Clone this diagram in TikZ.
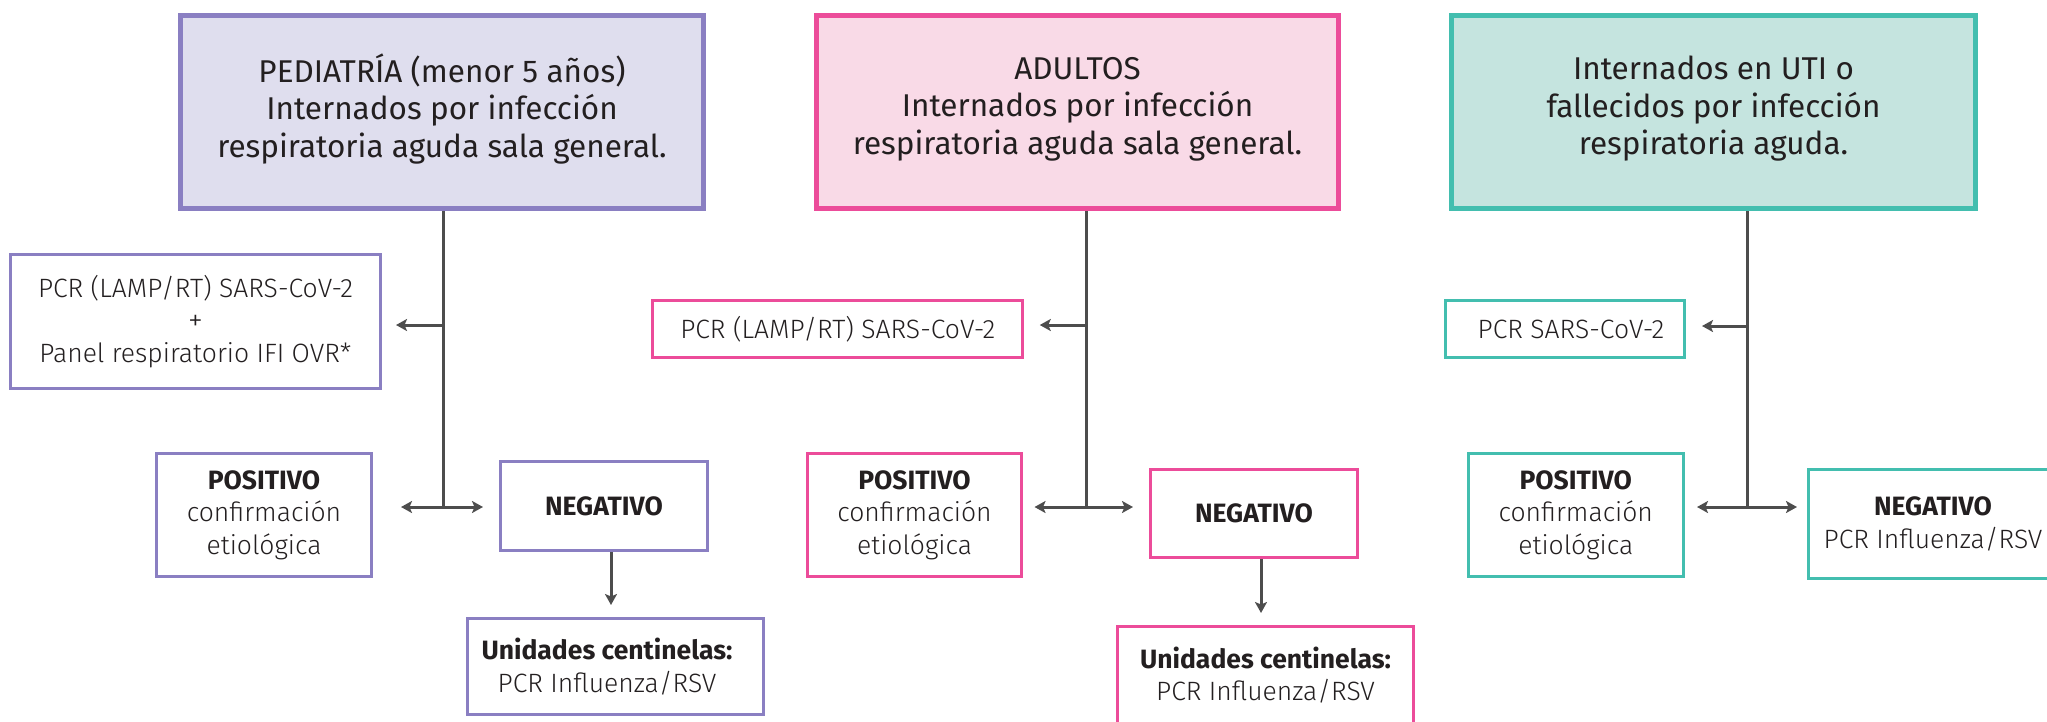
\documentclass[tikz,border=0pt]{standalone}
\usepackage{fontspec}
\setmainfont{Fira Sans}
\newfontfamily\lightfont{Fira Sans Light}
\usetikzlibrary{arrows.meta,calc}
\definecolor{txt}{HTML}{231F20}
\definecolor{lnk}{HTML}{4D4D4D}
\definecolor{purB}{HTML}{8A7FC2}
\definecolor{purF}{HTML}{DFDEEE}
\definecolor{pnkB}{HTML}{EC4C9A}
\definecolor{pnkF}{HTML}{F9DAE7}
\definecolor{tealB}{HTML}{43BEAF}
\definecolor{tealF}{HTML}{C5E4DF}
\newcommand\mybold[1]{{\normalfont\bfseries #1}}
\newcommand\lowfix{\rule[-13pt]{0pt}{0pt}}
\newcommand\plusmark{\raisebox{-1pt}{\fontsize{30}{30}\selectfont +}}
\begin{document}
\begin{tikzpicture}[x=1pt,y=-1pt,
  titlebox/.style={draw, line width=5pt, inner sep=0pt, align=center, text=txt,
    font=\fontsize{31.5}{37.5}\selectfont, minimum height=193pt},
  smallbox/.style={draw, line width=3pt, fill=white, inner sep=0pt, align=center, text=txt,
    font=\lightfont\fontsize{26.5}{32.5}\selectfont},
  conn/.style={draw=lnk, line width=3pt},
  arr/.style={conn, -{Stealth[length=11pt,width=12pt,inset=2.5pt]}},
  dbl/.style={conn, {Stealth[length=11pt,width=12pt,inset=2.5pt]}-{Stealth[length=11pt,width=12pt,inset=2.5pt]}}
]
\useasboundingbox (0,0) rectangle (2047,721);

% ---------- Pediatria ----------
\node[titlebox, draw=purB, fill=purF, minimum width=523pt] (pedtitle) at (442,112)
  {PEDIATRÍA (menor 5 años)\\Internados por infección\\respiratoria aguda sala general.\lowfix};
\node[smallbox, draw=purB, minimum width=370pt, minimum height=134pt] (pedpcr) at (195.5,321.5)
  {PCR (LAMP/RT) SARS-CoV-2\\\plusmark\\Panel respiratorio IFI OVR*};
\node[smallbox, draw=purB, minimum width=215pt, minimum height=123pt] (pedpos) at (264,515)
  {\mybold{POSITIVO}\\confirmación\\etiológica};
\node[smallbox, draw=purB, minimum width=207pt, minimum height=89pt] (pedneg) at (604,506)
  {\mybold{NEGATIVO}};
\node[smallbox, draw=purB, minimum width=296pt, minimum height=96pt] (peduni) at (615.5,666.5)
  {\mybold{Unidades centinelas:}\hspace*{17pt}\\PCR Influenza/RSV\hspace*{17pt}};

\coordinate (pedpcrj) at (443.5,325);
\coordinate (pedj) at (443.5,507);
\coordinate (pedd) at ([xshift=7pt]pedneg.south);
\draw[conn] (pedtitle.south -| pedj) -- (pedj);
\draw[arr, shorten >=14pt] (pedpcrj) -- (pedpcrj -| pedpcr.east);
\draw[dbl, shorten <=28pt, shorten >=16pt] (pedj -| pedpos.east) -- (pedj -| pedneg.west);
\draw[arr, shorten >=12pt] (pedd) -- (pedd |- peduni.north);

% ---------- Adultos ----------
\node[titlebox, draw=pnkB, fill=pnkF, minimum width=522pt] (adtitle) at (1077.5,112)
  {ADULTOS\\Internados por infección\\respiratoria aguda sala general.\lowfix};
\node[smallbox, draw=pnkB, minimum width=370pt, minimum height=57pt] (adpcr) at (837.75,329)
  {PCR (LAMP/RT) SARS-CoV-2};
\node[smallbox, draw=pnkB, minimum width=214pt, minimum height=123pt] (adpos) at (914.5,515)
  {\mybold{POSITIVO}\\confirmación\\etiológica};
\node[smallbox, draw=pnkB, minimum width=207pt, minimum height=88pt] (adneg) at (1254,513.5)
  {\mybold{NEGATIVO}};
\node[smallbox, draw=pnkB, minimum width=296pt, minimum height=97pt] (aduni) at (1265.5,675)
  {\mybold{Unidades centinelas:}\\PCR Influenza/RSV};

\coordinate (adpcrj) at (1086.5,325);
\coordinate (adj) at (1086.5,507);
\coordinate (add) at ([xshift=7pt]adneg.south);
\draw[conn] (adtitle.south -| adj) -- (adj);
\draw[arr, shorten >=15.5pt] (adpcrj) -- (adpcrj -| adpcr.east);
\draw[dbl, shorten <=11.5pt, shorten >=16pt] (adj -| adpos.east) -- (adj -| adneg.west);
\draw[arr, shorten >=12pt] (add) -- (add |- aduni.north);

% ---------- UTI ----------
\node[titlebox, draw=tealB, fill=tealF, minimum width=524pt] (utititle) at (1713.5,112)
  {Internados en UTI o\\fallecidos por infección\\respiratoria aguda.\lowfix};
\node[smallbox, draw=tealB, minimum width=239pt, minimum height=57pt] (utipcr) at (1565,329)
  {\hspace*{12pt}PCR SARS-CoV-2};
\node[smallbox, draw=tealB, minimum width=214.5pt, minimum height=123pt] (utipos) at (1575.75,515)
  {\mybold{POSITIVO}\\confirmación\\etiológica};
\node[smallbox, draw=tealB, minimum width=249pt, minimum height=109pt] (utineg) at (1933,524)
  {\mybold{NEGATIVO}\\PCR Influenza/RSV};

\coordinate (utipcrj) at (1747.5,326);
\coordinate (utij) at (1747.5,507);
\draw[conn] (utititle.south -| utij) -- (utij);
\draw[arr, shorten >=16pt] (utipcrj) -- (utipcrj -| utipcr.east);
\draw[dbl, shorten <=12.5pt, shorten >=10pt] (utij -| utipos.east) -- (utij -| utineg.west);
\end{tikzpicture}
\end{document}
